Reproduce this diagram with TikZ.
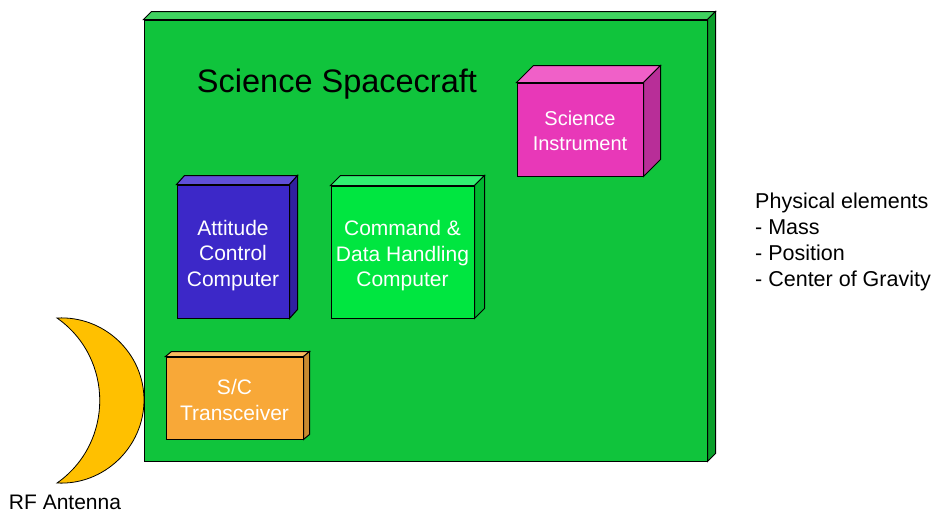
\documentclass[tikz,border=0pt]{standalone}
\usepackage{fontspec}
\setmainfont{Liberation Sans}
\definecolor{scgreen}{RGB}{16,196,60}
\definecolor{scgreentop}{RGB}{64,210,96}
\definecolor{scgreenside}{RGB}{10,158,42}
\definecolor{sipink}{RGB}{232,56,184}
\definecolor{sipinktop}{RGB}{240,96,200}
\definecolor{sipinkside}{RGB}{184,46,152}
\definecolor{acblue}{RGB}{60,40,200}
\definecolor{acbluetop}{RGB}{96,80,216}
\definecolor{acblueside}{RGB}{48,32,160}
\definecolor{cdgreen}{RGB}{0,230,64}
\definecolor{cdgreentop}{RGB}{48,240,112}
\definecolor{cdgreenside}{RGB}{0,184,48}
\definecolor{tcorange}{RGB}{248,168,56}
\definecolor{tcorangetop}{RGB}{250,187,96}
\definecolor{tcorangeside}{RGB}{200,138,48}
\definecolor{antgold}{RGB}{255,192,0}
\begin{document}
\begin{tikzpicture}[x=1pt,y=-1pt,
  outline/.style={draw=black,line width=1pt,line join=miter},
  front/.style={outline,inner sep=0pt},
  boxtext/.style={inner sep=0pt,align=center,text=white,
    font=\fontsize{21}{25.5}\selectfont},
  plaintext/.style={inner sep=0pt,text=black}]
\useasboundingbox (0,0) rectangle (933,512);
% big spacecraft box
\node[front,fill=scgreen,minimum width=563pt,minimum height=441pt] (sc) at (425.5,240.5) {};
\filldraw[outline,fill=scgreentop] (sc.north west) -- ++(8,-8) -- ([shift={(8,-8)}]sc.north east) -- (sc.north east) -- cycle;
\filldraw[outline,fill=scgreenside] (sc.north east) -- ([shift={(8,-8)}]sc.north east) -- ([shift={(8,-8)}]sc.south east) -- (sc.south east) -- cycle;
\node[plaintext,anchor=base,font=\fontsize{32.5}{38}\selectfont] (title) at (337,92) {Science Spacecraft};
% science instrument
\node[front,fill=sipink,minimum width=126pt,minimum height=93pt] (si) at (580,129.5) {};
\filldraw[outline,fill=sipinktop] (si.north west) -- ++(17,-17) -- ([shift={(17,-17)}]si.north east) -- (si.north east) -- cycle;
\filldraw[outline,fill=sipinkside] (si.north east) -- ([shift={(17,-17)}]si.north east) -- ([shift={(17,-17)}]si.south east) -- (si.south east) -- cycle;
\node[boxtext,font=\fontsize{20}{25}\selectfont] (sitext) at ([shift={(0,1)}]si.center) {Science\\Instrument};
% attitude control computer
\node[front,fill=acblue,minimum width=112pt,minimum height=133pt] (acc) at (233,251.5) {};
\filldraw[outline,fill=acbluetop] (acc.north west) -- ++(8,-9) -- ([shift={(8,-9)}]acc.north east) -- (acc.north east) -- cycle;
\filldraw[outline,fill=acblueside] (acc.north east) -- ([shift={(8,-9)}]acc.north east) -- ([shift={(8,-9)}]acc.south east) -- (acc.south east) -- cycle;
\node[boxtext] (acctext) at ([shift={(0,4)}]acc.center) {Attitude\\Control\\Computer};
% command & data handling computer
\node[front,fill=cdgreen,minimum width=143pt,minimum height=132pt] (cdh) at (402.5,252) {};
\filldraw[outline,fill=cdgreentop] (cdh.north west) -- ++(10,-10) -- ([shift={(10,-10)}]cdh.north east) -- (cdh.north east) -- cycle;
\filldraw[outline,fill=cdgreenside] (cdh.north east) -- ([shift={(10,-10)}]cdh.north east) -- ([shift={(10,-10)}]cdh.south east) -- (cdh.south east) -- cycle;
\node[boxtext] (cdhtext) at ([shift={(0,4)}]cdh.center) {Command \&\\Data Handling\\Computer};
% transceiver
\node[front,fill=tcorange,minimum width=137pt,minimum height=82pt] (trx) at (234.5,398) {};
\filldraw[outline,fill=tcorangetop] (trx.north west) -- ++(6,-5) -- ([shift={(6,-5)}]trx.north east) -- (trx.north east) -- cycle;
\filldraw[outline,fill=tcorangeside] (trx.north east) -- ([shift={(6,-5)}]trx.north east) -- ([shift={(6,-5)}]trx.south east) -- (trx.south east) -- cycle;
\node[boxtext] (trxtext) at ([shift={(0,2)}]trx.center) {S/C\\Transceiver};
% antenna
\coordinate (anttop) at (57,318);
\coordinate (antbot) at (57,483);
\filldraw[outline,line width=0.8pt,fill=antgold] (anttop) .. controls (104,315.5) and (144,353) .. (144,400)
  .. controls (144,447) and (104,485.5) .. (antbot)
  .. controls (114,443) and (114,358) .. (anttop) -- cycle;
\node[plaintext,anchor=base,font=\fontsize{21}{25.5}\selectfont] (antlabel) at (65,509.5) {RF Antenna};
% physical elements text
\node[plaintext,anchor=north west,align=left,font=\fontsize{21.5}{26}\selectfont] (phys) at (755,193) {Physical elements\\- Mass\\- Position\\- Center of Gravity};
\end{tikzpicture}
\end{document}
